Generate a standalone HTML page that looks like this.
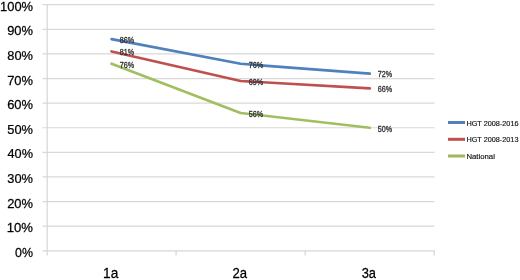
<!DOCTYPE html>
<html><head><meta charset="utf-8"><style>
html,body{margin:0;padding:0;background:#fff;}
svg{display:block;will-change:transform;}
text{font-family:"Liberation Sans",sans-serif;}
</style></head><body>
<svg width="520" height="280" viewBox="0 0 520 280">
<line x1="42.5" y1="226.19" x2="434.5" y2="226.19" stroke="#D9D9D9" stroke-width="1.2"/>
<line x1="42.5" y1="201.58" x2="434.5" y2="201.58" stroke="#D9D9D9" stroke-width="1.2"/>
<line x1="42.5" y1="176.97" x2="434.5" y2="176.97" stroke="#D9D9D9" stroke-width="1.2"/>
<line x1="42.5" y1="152.36" x2="434.5" y2="152.36" stroke="#D9D9D9" stroke-width="1.2"/>
<line x1="42.5" y1="127.75" x2="434.5" y2="127.75" stroke="#D9D9D9" stroke-width="1.2"/>
<line x1="42.5" y1="103.14" x2="434.5" y2="103.14" stroke="#D9D9D9" stroke-width="1.2"/>
<line x1="42.5" y1="78.53" x2="434.5" y2="78.53" stroke="#D9D9D9" stroke-width="1.2"/>
<line x1="42.5" y1="53.92" x2="434.5" y2="53.92" stroke="#D9D9D9" stroke-width="1.2"/>
<line x1="42.5" y1="29.31" x2="434.5" y2="29.31" stroke="#D9D9D9" stroke-width="1.2"/>
<line x1="42.5" y1="4.70" x2="434.5" y2="4.70" stroke="#D9D9D9" stroke-width="1.2"/>
<line x1="47.2" y1="4.2" x2="47.2" y2="255.5" stroke="#D6D6D6" stroke-width="1.2"/>
<line x1="42.5" y1="250.80" x2="434.5" y2="250.80" stroke="#D6D6D6" stroke-width="1.2"/>
<line x1="176.1" y1="250.80" x2="176.1" y2="255.5" stroke="#D6D6D6" stroke-width="1.2"/>
<line x1="305.2" y1="250.80" x2="305.2" y2="255.5" stroke="#D6D6D6" stroke-width="1.2"/>
<line x1="434.2" y1="250.80" x2="434.2" y2="255.5" stroke="#D6D6D6" stroke-width="1.2"/>
<text x="0" y="0" font-size="13.24" fill="#000" transform="matrix(0.9373 0 0 1 15.10 256.77)" stroke="#000" stroke-width="0.25">0%</text>
<text x="0" y="0" font-size="13.24" fill="#000" transform="matrix(0.9911 0 0 1 6.75 232.16)" stroke="#000" stroke-width="0.25">10%</text>
<text x="0" y="0" font-size="13.24" fill="#000" transform="matrix(0.9756 0 0 1 7.15 207.55)" stroke="#000" stroke-width="0.25">20%</text>
<text x="0" y="0" font-size="13.24" fill="#000" transform="matrix(0.9706 0 0 1 7.29 182.94)" stroke="#000" stroke-width="0.25">30%</text>
<text x="0" y="0" font-size="13.24" fill="#000" transform="matrix(0.9606 0 0 1 7.55 158.33)" stroke="#000" stroke-width="0.25">40%</text>
<text x="0" y="0" font-size="13.24" fill="#000" transform="matrix(0.9706 0 0 1 7.29 133.72)" stroke="#000" stroke-width="0.25">50%</text>
<text x="0" y="0" font-size="13.24" fill="#000" transform="matrix(0.9756 0 0 1 7.15 109.11)" stroke="#000" stroke-width="0.25">60%</text>
<text x="0" y="0" font-size="13.24" fill="#000" transform="matrix(0.9756 0 0 1 7.15 84.50)" stroke="#000" stroke-width="0.25">70%</text>
<text x="0" y="0" font-size="13.24" fill="#000" transform="matrix(0.9706 0 0 1 7.29 59.89)" stroke="#000" stroke-width="0.25">80%</text>
<text x="0" y="0" font-size="13.24" fill="#000" transform="matrix(0.9756 0 0 1 7.15 35.28)" stroke="#000" stroke-width="0.25">90%</text>
<text x="0" y="0" font-size="13.24" fill="#000" transform="matrix(0.9751 0 0 1 0.07 10.67)" stroke="#000" stroke-width="0.25">100%</text>
<text x="0" y="0" font-size="14.43" fill="#000" transform="matrix(0.9488 0 0 1 103.10 277.86)" stroke="#000" stroke-width="0.25">1a</text>
<text x="0" y="0" font-size="14.23" fill="#000" transform="matrix(0.9218 0 0 1 232.44 277.86)" stroke="#000" stroke-width="0.25">2a</text>
<text x="0" y="0" font-size="14.23" fill="#000" transform="matrix(0.9066 0 0 1 361.68 277.86)" stroke="#000" stroke-width="0.25">3a</text>
<polyline points="111.60,39.15 240.65,63.76 369.75,73.61" fill="none" stroke="#4F81BD" stroke-width="2.7" stroke-linejoin="round" stroke-linecap="round"/>
<polyline points="111.60,51.46 240.65,80.99 369.75,88.37" fill="none" stroke="#C0504D" stroke-width="2.7" stroke-linejoin="round" stroke-linecap="round"/>
<polyline points="111.60,63.76 240.65,112.98 369.75,127.75" fill="none" stroke="#A0BF60" stroke-width="2.7" stroke-linejoin="round" stroke-linecap="round"/>
<text x="0" y="0" font-size="8.31" fill="#333" transform="matrix(0.8667 0 0 1 119.71 42.97)" stroke="#333" stroke-width="0.32">86%</text>
<text x="0" y="0" font-size="8.31" fill="#333" transform="matrix(0.8712 0 0 1 248.69 67.58)" stroke="#333" stroke-width="0.32">76%</text>
<text x="0" y="0" font-size="8.31" fill="#333" transform="matrix(0.8712 0 0 1 377.79 77.42)" stroke="#333" stroke-width="0.32">72%</text>
<text x="0" y="0" font-size="8.31" fill="#333" transform="matrix(0.8667 0 0 1 119.71 55.28)" stroke="#333" stroke-width="0.32">81%</text>
<text x="0" y="0" font-size="8.31" fill="#333" transform="matrix(0.8712 0 0 1 248.69 84.81)" stroke="#333" stroke-width="0.32">69%</text>
<text x="0" y="0" font-size="8.31" fill="#333" transform="matrix(0.8712 0 0 1 377.79 92.19)" stroke="#333" stroke-width="0.32">66%</text>
<text x="0" y="0" font-size="8.31" fill="#333" transform="matrix(0.8712 0 0 1 119.64 67.58)" stroke="#333" stroke-width="0.32">76%</text>
<text x="0" y="0" font-size="8.31" fill="#333" transform="matrix(0.8667 0 0 1 248.76 116.80)" stroke="#333" stroke-width="0.32">56%</text>
<text x="0" y="0" font-size="8.31" fill="#333" transform="matrix(0.8667 0 0 1 377.86 131.57)" stroke="#333" stroke-width="0.32">50%</text>
<line x1="448" y1="122.5" x2="465" y2="122.5" stroke="#4F81BD" stroke-width="3"/>
<text x="0" y="0" font-size="6.62" fill="#111" transform="matrix(1.1024 0 0 1 466.42 126.23)" stroke="#111" stroke-width="0.15">HGT 2008-2016</text>
<line x1="448" y1="139.3" x2="465" y2="139.3" stroke="#C0504D" stroke-width="3"/>
<text x="0" y="0" font-size="7.46" fill="#111" transform="matrix(0.9776 0 0 1 466.42 142.23)" stroke="#111" stroke-width="0.15">HGT 2008-2013</text>
<line x1="448" y1="156.0" x2="465" y2="156.0" stroke="#9BBB59" stroke-width="3"/>
<text x="0" y="0" font-size="7.43" fill="#111" transform="matrix(1.0473 0 0 1 466.38 159.13)" stroke="#111" stroke-width="0.15">National</text>
</svg>
</body></html>
